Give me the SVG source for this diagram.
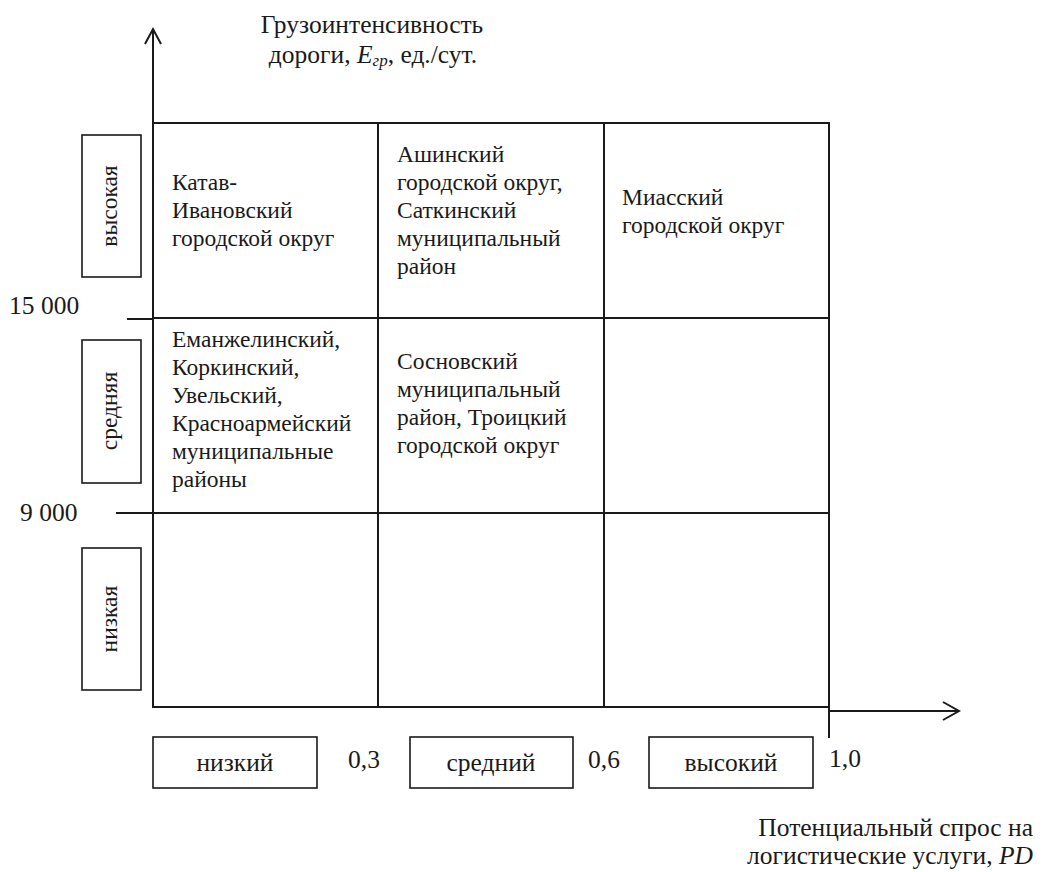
<svg xmlns="http://www.w3.org/2000/svg" width="1043" height="872" viewBox="0 0 1043 872" font-family="'Liberation Serif', 'DejaVu Serif', serif">
<style>
text{font-family:'Liberation Serif','DejaVu Serif',serif;font-size:25.5px;fill:#1a1a1a}
.c{font-size:23.5px}
.t{font-size:25.5px}
.ln{stroke:#1a1a1a;stroke-width:2;fill:none}
.bx{stroke:#1a1a1a;stroke-width:1.6;fill:#fff}
.m{text-anchor:middle}
.e{text-anchor:end}
</style>
<rect width="1043" height="872" fill="#fff"/>
<g id="connectors">
<path class="ln" d="M153,707 V29"/>
<path class="ln" d="M145,44 L153,29 L161,44"/>
<path class="ln" d="M829,711 H959"/>
<path class="ln" d="M943,702 L959,711 L943,720"/>
<path class="ln" d="M829,707 V738"/>
<path class="ln" d="M127,319 H153"/>
<path class="ln" d="M116,513 H153"/>
</g>
<g id="grid">
<rect class="ln" x="153" y="123" width="676" height="584"/>
<path class="ln" d="M378,123 V707 M604,123 V707 M153,318 H829 M153,513 H829"/>
</g>
<g id="y-title">
<text class="m t" x="372" y="33">Грузоинтенсивность</text>
<text class="m t" x="373" y="63">дороги, <tspan font-style="italic">E</tspan><tspan font-style="italic" font-size="17" dy="3">гр</tspan><tspan dy="-3">, ед./сут.</tspan></text>
</g>
<g id="x-title">
<text class="e" x="1033" y="836">Потенциальный спрос на</text>
<text class="e" x="1033" y="864">логистические услуги, <tspan font-style="italic">PD</tspan></text>
</g>
<g id="y-ticks">
<text x="9" y="314">15 000</text>
<text x="20" y="521">9 000</text>
</g>
<g id="box-vysokaya"><rect class="bx" x="82" y="135" width="59" height="142"/><text class="m c" transform="translate(117,206) rotate(-90)">высокая</text></g>
<g id="box-srednyaya"><rect class="bx" x="82" y="340" width="59" height="143"/><text class="m c" transform="translate(117,411) rotate(-90)">средняя</text></g>
<g id="box-nizkaya"><rect class="bx" x="82" y="548" width="59" height="142"/><text class="m c" transform="translate(117,619) rotate(-90)">низкая</text></g>
<g id="box-nizkiy"><rect class="bx" x="153" y="737" width="164" height="51"/><text class="m" x="235" y="771">низкий</text></g>
<text x="348" y="768">0,3</text>
<g id="box-sredniy"><rect class="bx" x="410" y="737" width="163" height="51"/><text class="m" x="491" y="771">средний</text></g>
<text x="588" y="768">0,6</text>
<g id="box-vysokiy"><rect class="bx" x="649" y="737" width="164" height="51"/><text class="m" x="731" y="771">высокий</text></g>
<text x="829" y="767">1,0</text>
<g id="cell-1-1">
<text class="c" x="172" y="190">Катав-</text>
<text class="c" x="172" y="218">Ивановский</text>
<text class="c" x="172" y="246">городской округ</text>
</g>
<g id="cell-1-2">
<text class="c" x="397" y="162">Ашинский</text>
<text class="c" x="397" y="190">городской округ,</text>
<text class="c" x="397" y="218">Саткинский</text>
<text class="c" x="397" y="246">муниципальный</text>
<text class="c" x="397" y="274">район</text>
</g>
<g id="cell-1-3">
<text class="c" x="622" y="205">Миасский</text>
<text class="c" x="622" y="233">городской округ</text>
</g>
<g id="cell-2-1">
<text class="c" x="172" y="347">Еманжелинский,</text>
<text class="c" x="172" y="375">Коркинский,</text>
<text class="c" x="172" y="403">Увельский,</text>
<text class="c" x="172" y="431">Красноармейский</text>
<text class="c" x="172" y="459">муниципальные</text>
<text class="c" x="172" y="487">районы</text>
</g>
<g id="cell-2-2">
<text class="c" x="397" y="369">Сосновский</text>
<text class="c" x="397" y="397">муниципальный</text>
<text class="c" x="397" y="425">район, Троицкий</text>
<text class="c" x="397" y="453">городской округ</text>
</g>
</svg>
